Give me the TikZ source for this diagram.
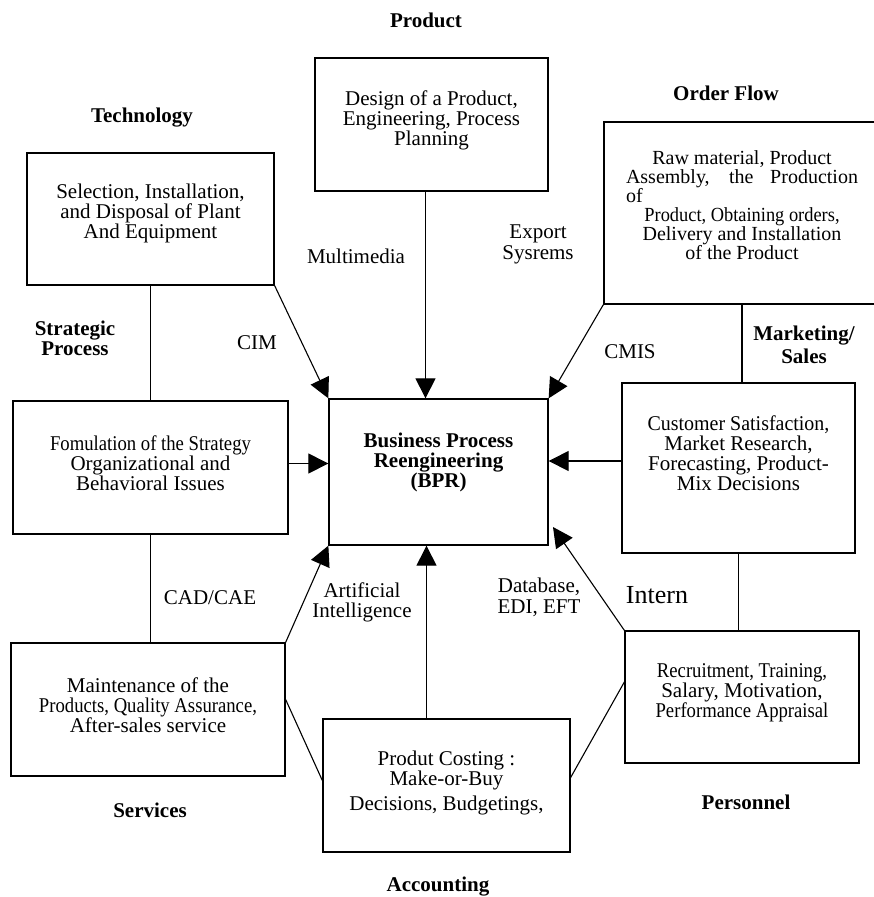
\documentclass[tikz,border=0pt]{standalone}
\usepackage{fontspec}
\usepackage{graphicx}
\setmainfont{Liberation Serif}
\usetikzlibrary{arrows.meta}

\newcommand{\narrow}[2][0.89]{\scalebox{#1}[1]{#2}}

\tikzset{
  box/.style={draw, line width=1.3pt, inner sep=0pt},
  boxtext/.style={align=center, font=\fontsize{21}{20}\selectfont},
  head/.style={align=center, font=\bfseries\fontsize{21}{20}\selectfont},
  tag/.style={align=center, font=\fontsize{21}{21}\selectfont},
  link/.style={line width=1.1pt},
  arr/.style={line width=1.1pt, -{Triangle[length=20pt,width=20pt]}},
}

\begin{document}
\begin{tikzpicture}[x=1pt, y=-1pt]
\useasboundingbox (0,0) rectangle (874,897);

% Boites
\node[box, minimum width=247pt, minimum height=132pt] (tech) at (150.5,219) {};
\node[box, minimum width=233pt, minimum height=133pt] (prod) at (431.5,124.5) {};
\node[box, minimum width=276pt, minimum height=182pt] (order) at (742,213) {};
\node[box, minimum width=275pt, minimum height=133pt] (strat) at (150.5,467.5) {};
\node[box, minimum width=219pt, minimum height=146pt] (bpr) at (438.5,472) {};
\node[box, minimum width=233pt, minimum height=170pt] (cust) at (738.5,468) {};
\node[box, minimum width=274pt, minimum height=133pt] (maint) at (148,709.5) {};
\node[box, minimum width=247pt, minimum height=133pt] (acct) at (446.5,785.5) {};
\node[box, minimum width=234pt, minimum height=132pt] (pers) at (742,697) {};

% Textes des boites
\node[boxtext] (techtxt) at ([yshift=6pt]tech.center)
  {Selection, Installation,\\ and Disposal of Plant\\ And Equipment};
\node[boxtext] (prodtxt) at ([yshift=4.5pt]prod.center)
  {Design of a Product,\\ Engineering, Process\\ Planning};
\node[boxtext, font=\fontsize{20}{19}\selectfont] (ordertxt) at ([yshift=7.5pt]order.center)
  {Raw material, Product\\
   \makebox[232pt][s]{Assembly, the Production}\\
   \makebox[232pt][l]{of}\\
   \narrow[0.92]{Product, Obtaining orders,}\\
   Delivery and Installation\\
   of the Product};
\node[boxtext] (strattxt) at ([yshift=4.5pt]strat.center)
  {\narrow{Fomulation of the Strategy}\\ Organizational and\\ Behavioral Issues};
\node[head] (bprtxt) at ([yshift=10pt]bpr.center)
  {Business Process\\ Reengineering\\ (BPR)};
\node[boxtext] (custtxt) at ([yshift=15pt]cust.center)
  {\narrow[0.95]{Customer Satisfaction,}\\ Market Research,\\ Forecasting, Product-\\ Mix Decisions};
\node[boxtext] (mainttxt) at ([yshift=4.5pt]maint.center)
  {Maintenance of the\\ \narrow{Products, Quality Assurance,}\\ After-sales service};
\node[boxtext] (accttxt) at ([yshift=3pt]acct.center)
  {Produt Costing :\\ Make-or-Buy\\[5pt] Decisions, Budgetings,};
\node[boxtext] (perstxt) at ([yshift=4pt]pers.center)
  {\narrow{Recruitment, Training,}\\ Salary, Motivation,\\ \narrow{Performance Appraisal}};

% Titres
\node[head] (prodhead) at (426,20) {Product};
\node[head] (techhead) at (142,118) {Technology};
\node[head] (orderhead) at (726,93) {Order Flow};
\node[head] (strathead) at (75,338) {Strategic\\ Process};
\node[head, font=\bfseries\fontsize{21}{23}\selectfont] (markhead) at (804,345) {Marketing/\\ Sales};
\node[head] (servhead) at (150,810) {Services};
\node[head] (accthead) at (438,887) {Accounting};
\node[head] (pershead) at (746,802) {Personnel};

% Etiquettes des liens
\node[tag] (cim) at (257,343) {CIM};
\node[tag] (multi) at (356,256) {Multimedia};
\node[tag] (export) at (538,244) {Export\\ Sysrems};
\node[tag] (cmis) at (630,352) {CMIS};
\node[tag] (cad) at (210,598) {CAD/CAE};
\node[tag, font=\fontsize{21}{20}\selectfont] (ai) at (362,602) {Artificial\\ Intelligence};
\node[tag] (db) at (539,597) {Database,\\ EDI, EFT};
\node[tag, font=\fontsize{26}{26}\selectfont] (intern) at (657,595) {Intern};

% Fleches vers BPR
\draw[arr] (tech.south east) -- (bpr.north west);
\draw[arr] ([xshift=-6pt]prod.south) -- ([xshift=-6pt]prod.south |- bpr.north);
\draw[arr] (order.south west) -- (bpr.north east);
\draw[arr] ([yshift=4pt]strat.east) -- ([yshift=4pt]strat.east -| bpr.west);
\draw[arr] ([yshift=7pt]cust.west) -- ([yshift=7pt]cust.west -| bpr.east);
\draw[arr] (maint.north east) -- (bpr.south west);
\draw[arr] ([xshift=-20pt]acct.north) -- ([xshift=-20pt]acct.north |- bpr.south);
\coordinate (perstip) at (553,527);
\draw[arr] (pers.north west) -- (perstip);

% Liens simples
\draw[link] (tech.south) -- (tech.south |- strat.north);
\draw[link] (strat.south) -- (strat.south |- maint.north);
\draw[link] (order.south) -- (order.south |- cust.north);
\draw[link] (cust.south) -- (cust.south |- pers.north);
\draw[link] ([yshift=10pt]maint.east) -- ([yshift=5pt]acct.west);
\draw[link] ([yshift=8pt]acct.east) -- ([yshift=15pt]pers.west);

\end{tikzpicture}
\end{document}
